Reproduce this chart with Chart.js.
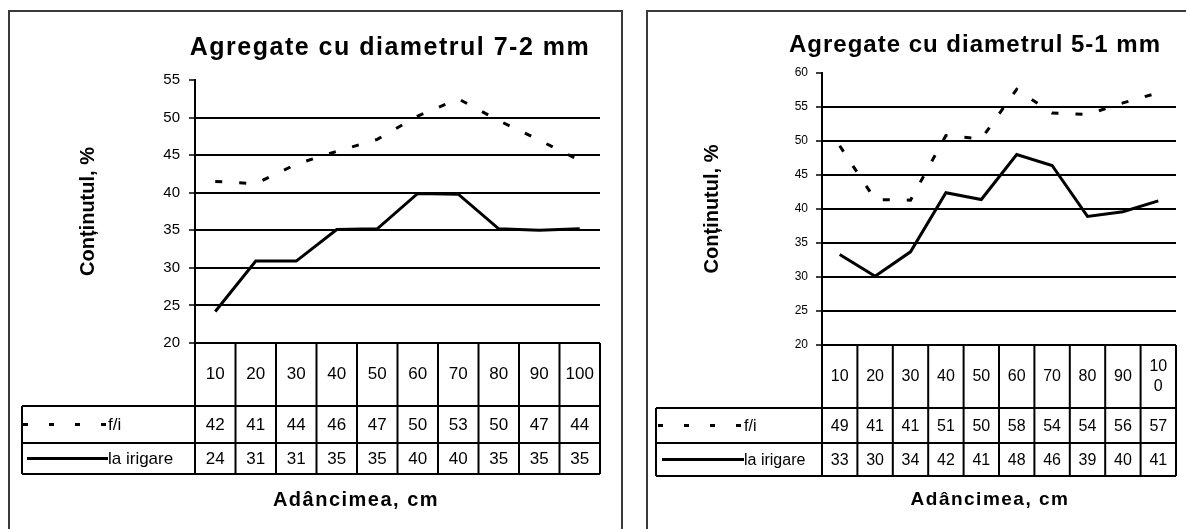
<!DOCTYPE html>
<html lang="ro">
<head>
  <meta charset="UTF-8" />
  <title>Agregate - conținutul pe adâncime</title>
  <script src="https://cdn.jsdelivr.net/npm/chart.js"></script>
  <style>
    body {
      margin: 0;
      background: #fff;
      width: 1186px;
      height: 529px;
      overflow: hidden;
      position: relative;
    }
    .box {
      position: absolute;
      border: 2px solid #3a3a3a;
      border-bottom: none;
      background: #fff;
    }
    #box1 { left: 8px; top: 10px; width: 611px; height: 519px; }
    #box2 { left: 646px; top: 10px; width: 560px; height: 519px; border-right: none; }
    canvas { display: block; }
  </style>
</head>
<body>
  <div class="box" id="box1"><canvas id="chart72" width="611" height="517"></canvas></div>
  <div class="box" id="box2"><canvas id="chart51" width="538" height="517"></canvas></div>

  <script>
    // adancimea (cm) si continutul (%)
    const adancimi = ['10', '20', '30', '40', '50', '60', '70', '80', '90', '100'];
    const fi72 = [41.5, 41.2, 43.8, 45.5, 47.1, 50.2, 52.5, 49.6, 47.0, 44.3];
    const irig72 = [24.2, 30.9, 30.9, 35.1, 35.2, 39.9, 39.8, 35.2, 35.0, 35.2];
    const fi51 = [49.3, 41.4, 41.3, 50.8, 50.3, 57.6, 54.1, 53.9, 55.6, 57.1];
    const irig51 = [33.3, 30.1, 33.7, 42.4, 41.4, 48.0, 46.4, 38.9, 39.6, 41.2];
    const serii = ['f/i', 'la irigare'];

    // tabelul de date de sub grafic (ca in Excel)
    const tabelPlugin = {
      id: 'tabel',
      afterDraw(chart, args, o) {
        const { ctx, chartArea: a, scales: { x } } = chart;
        const n = chart.data.labels.length;
        const w = (a.right - a.left) / n;
        const r0 = a.bottom, r1 = r0 + o.headH, r2 = r1 + o.rowH, r3 = r2 + o.rowH2;
        ctx.save();

        // titlul
        ctx.fillStyle = '#000';
        ctx.font = 'bold ' + o.titleSize + 'px Arial';
        ctx.letterSpacing = o.titleSp + 'px';
        ctx.textAlign = 'center';
        ctx.textBaseline = 'middle';
        ctx.fillText(o.titlu, o.titleX, o.titleY);

        // liniile tabelului
        ctx.strokeStyle = '#000';
        ctx.lineWidth = 2;
        ctx.beginPath();
        ctx.moveTo(a.left, r0); ctx.lineTo(a.right, r0);
        [r1, r2, r3].forEach(y => { ctx.moveTo(o.left, y); ctx.lineTo(a.right, y); });
        for (let i = 0; i <= n; i++) {
          const xx = a.left + i * w;
          ctx.moveTo(xx, r0); ctx.lineTo(xx, r3);
        }
        ctx.moveTo(o.left, r1); ctx.lineTo(o.left, r3);
        ctx.stroke();

        // etichetele categoriilor (cu rupere de rand daca nu incap)
        ctx.font = o.fontSize + 'px Arial';
        ctx.letterSpacing = '0px';
        chart.data.labels.forEach((lab, i) => {
          const cx = x.getPixelForValue(i);
          let lines = [lab];
          if (ctx.measureText(lab).width > w - o.wrapPad) {
            lines = [lab.slice(0, 2), lab.slice(2)];
          }
          const cy = (r0 + r1) / 2;
          lines.forEach((t, k) => ctx.fillText(t, cx, cy + (k - (lines.length - 1) / 2) * o.fontSize * 1.3));
        });

        // valorile seriilor
        const ys = [(r1 + r2) / 2, (r2 + r3) / 2];
        chart.data.datasets.forEach((ds, d) => {
          ds.data.forEach((v, i) => {
            ctx.fillText(String(Math.round(v)), x.getPixelForValue(i), ys[d] + 1);
          });
        });

        // legenda in prima coloana
        chart.data.datasets.forEach((ds, d) => {
          ctx.beginPath();
          ctx.lineWidth = 3;
          ctx.setLineDash(d === 0 ? [5, 21] : []);
          ctx.moveTo(o.legX0 + (d === 0 ? 0 : 4), ys[d]);
          ctx.lineTo(o.legX1, ys[d]);
          ctx.stroke();
          ctx.setLineDash([]);
          ctx.textAlign = 'left';
          ctx.fillText(ds.label, o.legX1, ys[d] + 1);
        });

        // titlul axei X
        ctx.textAlign = 'center';
        ctx.font = 'bold ' + o.axaSize + 'px Arial';
        ctx.letterSpacing = '1.5px';
        ctx.fillText(o.axaX, o.axaXx, o.axaXy);
        ctx.restore();
      }
    };

    function grafic(id, fi, irig, max, cfg) {
      return new Chart(document.getElementById(id), {
        type: 'line',
        data: {
          labels: adancimi,
          datasets: [
            {
              label: serii[0],
              data: fi,
              borderColor: '#000',
              borderWidth: 3,
              borderDash: [7, 17],
              pointRadius: 0,
              tension: 0
            },
            {
              label: serii[1],
              data: irig,
              borderColor: '#000',
              borderWidth: 3,
              pointRadius: 0,
              tension: 0
            }
          ]
        },
        options: {
          responsive: false,
          animation: false,
          layout: { padding: cfg.padding },
          plugins: {
            legend: { display: false },
            tooltip: { enabled: false },
            tabel: cfg.tabel
          },
          scales: {
            x: { type: 'category', offset: true, display: false },
            y: {
              min: 20,
              max: max,
              ticks: {
                stepSize: 5,
                color: '#000',
                font: { family: 'Arial', size: cfg.tickSize },
                padding: cfg.tickPad
              },
              grid: {
                color: c => (c.tick.value === max || c.tick.value === 20) ? 'rgba(0,0,0,0)' : '#000',
                lineWidth: 2,
                tickLength: 6,
                tickColor: '#000',
                tickWidth: 1.5
              },
              border: { color: '#000', width: 2 },
              title: {
                display: true,
                text: 'Conținutul, %',
                color: '#000',
                font: { family: 'Arial', size: 20, weight: 'bold' },
                padding: { top: 2, bottom: 2 }
              },
              afterFit(s) { s.width = cfg.axisW; }
            }
          }
        },
        plugins: [tabelPlugin]
      });
    }

    grafic('chart72', fi72, irig72, 55, {
      padding: { left: 64, top: 68, right: 21, bottom: 186 },
      axisW: 121,
      tickSize: 15,
      tickPad: 9,
      tabel: {
        titlu: 'Agregate cu diametrul 7-2 mm', titleX: 380, titleY: 36, titleSize: 25, titleSp: 1.5,
        headH: 63, rowH: 37, rowH2: 31, left: 12, fontSize: 17, wrapPad: 6,
        legX0: 13, legX1: 98,
        axaX: 'Adâncimea, cm', axaXx: 346, axaXy: 488, axaSize: 20
      }
    });

    grafic('chart51', fi51, irig51, 60, {
      padding: { left: 50, top: 61, right: 10, bottom: 184 },
      axisW: 124,
      tickSize: 12,
      tickPad: 8,
      tabel: {
        titlu: 'Agregate cu diametrul 5-1 mm', titleX: 327, titleY: 33, titleSize: 24, titleSp: 1,
        headH: 63, rowH: 35, rowH2: 33, left: 8, fontSize: 16, wrapPad: 14,
        legX0: 10, legX1: 96,
        axaX: 'Adâncimea, cm', axaXx: 342, axaXy: 488, axaSize: 19
      }
    });
  </script>
</body>
</html>
